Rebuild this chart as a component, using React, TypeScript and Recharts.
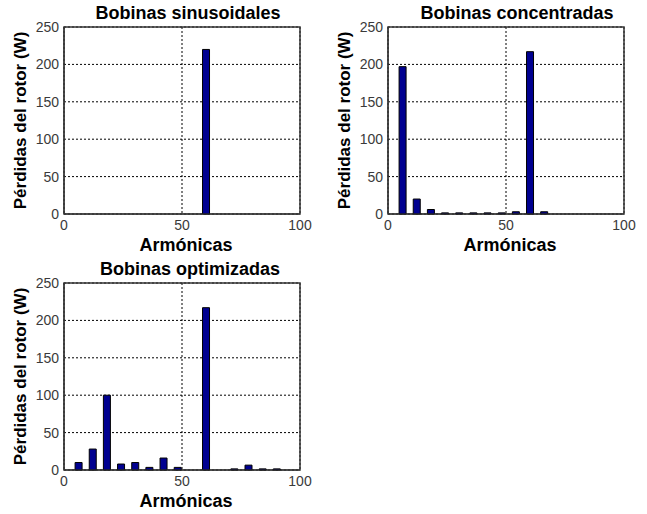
import React from 'react';
import { BarChart, Bar, XAxis, YAxis, CartesianGrid, ReferenceArea } from 'recharts';

// harmonic orders shown on the x axis
const harmonics = [6, 12, 18, 24, 30, 36, 42, 48, 54, 60, 66, 72, 78, 84, 90];

// rotor losses (W) per harmonic
const sinusoidalLosses = [0, 0, 0, 0, 0, 0, 0, 0, 0, 220, 0, 0, 0, 0, 0];
const concentratedLosses = [197, 20, 6, 1.5, 1.5, 1.5, 1.5, 1.5, 3, 217, 3, 0, 0, 0, 0];
const optimizedLosses = [10, 28, 100, 8, 10, 3.5, 16, 3.5, 0, 217, 0, 1.5, 6.5, 1.5, 1.5];

const xTicks = [0, 50, 100];
const yTicks = [0, 50, 100, 150, 200, 250];

const FONT = '"Liberation Sans", Arial, Helvetica, sans-serif';

interface PanelProps {
  title: string;
  values: number[];
  left: number;
  top: number;
  titleX: number;
  titleY: number;
}

function Panel({ title, values, left, top, titleX, titleY }: PanelProps) {
  const data = harmonics.map((h, i) => ({ h, loss: values[i] }));
  return (
    <div style={{ position: 'absolute', left, top, width: 320, height: 260 }}>
      <div
        style={{
          position: 'absolute',
          left: titleX,
          top: titleY,
          transform: 'translate(-50%, -50%)',
          whiteSpace: 'nowrap',
          font: `bold 18px ${FONT}`,
          color: '#000',
        }}
      >
        {title}
      </div>
      <BarChart width={320} height={260} data={data} margin={{ top: 27, right: 20, left: 0, bottom: 0 }}>
        <CartesianGrid stroke="#000" strokeDasharray="2 2" strokeWidth={1} />
        <XAxis
          dataKey="h"
          type="number"
          domain={[0, 100]}
          ticks={xTicks}
          height={46}
          tickLine={false}
          tickSize={4}
          axisLine={{ stroke: '#333' }}
          tick={{ fontSize: 14, fill: '#3a3a3a', fontFamily: FONT }}
          label={{
            content: ({ viewBox }: any) => (
              <text
                x={viewBox.x + viewBox.width / 2 + 4}
                y={viewBox.y + 37}
                textAnchor="middle"
                style={{ font: `bold 18px ${FONT}`, fill: '#000' }}
              >
                Armónicas
              </text>
            ),
          }}
        />
        <YAxis
          type="number"
          domain={[0, 250]}
          ticks={yTicks}
          width={64}
          tickLine={false}
          tickSize={3}
          interval={0}
          axisLine={{ stroke: '#333' }}
          tick={{ fontSize: 14, fill: '#3a3a3a', fontFamily: FONT }}
          label={{
            content: ({ viewBox }: any) => {
              const cx = 20;
              const cy = viewBox.y + viewBox.height / 2;
              return (
                <text
                  x={cx}
                  y={cy}
                  textAnchor="middle"
                  dominantBaseline="central"
                  transform={`rotate(-90 ${cx} ${cy})`}
                  style={{ font: `bold 17px ${FONT}`, fill: '#000' }}
                >
                  Pérdidas del rotor (W)
                </text>
              );
            },
          }}
        />
        <Bar dataKey="loss" fill="#000090" stroke="#000" strokeWidth={1} barSize={7} isAnimationActive={false} />
        <ReferenceArea x1={0} x2={100} y1={0} y2={250} fill="none" stroke="#333" strokeWidth={1.5} ifOverflow="visible" />
      </BarChart>
    </div>
  );
}

export default function App() {
  return (
    <div style={{ position: 'absolute', left: 0, top: 0, width: 647, height: 514, background: '#fff', overflow: 'hidden' }}>
      <Panel title="Bobinas sinusoidales" values={sinusoidalLosses} left={0} top={0} titleX={188} titleY={13} />
      <Panel title="Bobinas concentradas" values={concentratedLosses} left={324} top={0} titleX={193} titleY={13} />
      <Panel title="Bobinas optimizadas" values={optimizedLosses} left={0} top={256} titleX={190} titleY={13} />
    </div>
  );
}
